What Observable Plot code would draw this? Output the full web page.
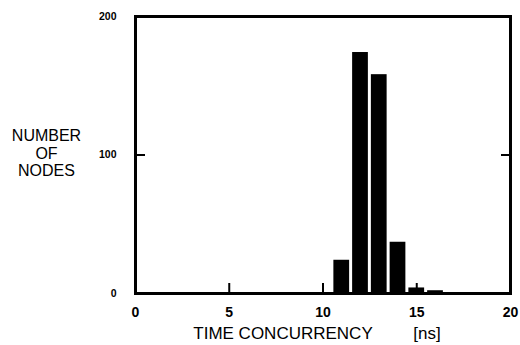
<!DOCTYPE html>
<html>
<head>
<meta charset="utf-8">
<script src="https://cdn.jsdelivr.net/npm/d3@7"></script>
<script src="https://cdn.jsdelivr.net/npm/@observablehq/plot@0.6"></script>
<style>
  html, body { margin: 0; padding: 0; background: #fff; }
  #chart svg { display: block; }
</style>
</head>
<body>
<div id="chart"></div>
<script>
// Bin centers (ns) and counts
const binCenters = [11, 12, 13, 14, 15, 16];
const counts = [24, 174, 158, 37, 4, 2];
const xTicks = [0, 5, 10, 15, 20];
const yTicks = [0, 100, 200];
const yTitle = "NUMBER\nOF\nNODES";
const xTitle = "TIME CONCURRENCY";
const xUnit = "[ns]";

const bins = binCenters.map((c, i) => ({x1: c - 0.5, x2: c + 0.5, n: counts[i]}));

const chart = Plot.plot({
  width: 520,
  height: 345,
  marginLeft: 135,
  marginRight: 10,
  marginTop: 16,
  marginBottom: 52,
  style: {fontFamily: "'Liberation Sans', Arial, sans-serif", background: "#fff", color: "#000"},
  x: {domain: [0, 20]},
  y: {domain: [0, 200]},
  marks: [
    // inward ticks only (no text)
    Plot.axisX({ticks: xTicks, tickSize: -10, fill: "none", strokeWidth: 2, label: null}),
    Plot.axisY({ticks: [100], tickSize: -10, fill: "none", strokeWidth: 2, label: null}),
    Plot.axisY({ticks: [100], anchor: "right", tickSize: -10, fill: "none", strokeWidth: 2, label: null}),
    Plot.rectY(bins, {x1: "x1", x2: "x2", y: "n", fill: "#000", insetLeft: 1.5, insetRight: 1.5}),
    Plot.frame({stroke: "#000", strokeWidth: 3}),
    // tick labels
    Plot.axisX({ticks: xTicks, tickSize: 0, tickPadding: 14, fontSize: 14, fontWeight: "bold", label: null}),
    Plot.axisY({ticks: yTicks, tickSize: 0, tickPadding: 19, fontSize: 10.5, fontWeight: "bold", label: null}),
    Plot.text([yTitle], {frameAnchor: "left", dx: -89, dy: -2, textAnchor: "middle", fontSize: 16, lineHeight: 1.1, fill: "#000"}),
    Plot.text([xTitle], {frameAnchor: "bottom", dx: -40, dy: 45, textAnchor: "middle", fontSize: 17, fill: "#000"}),
    Plot.text([xUnit], {frameAnchor: "bottom", dx: 104, dy: 45, textAnchor: "middle", fontSize: 17, fill: "#000"})
  ]
});
document.getElementById("chart").appendChild(chart);
</script>
</body>
</html>
